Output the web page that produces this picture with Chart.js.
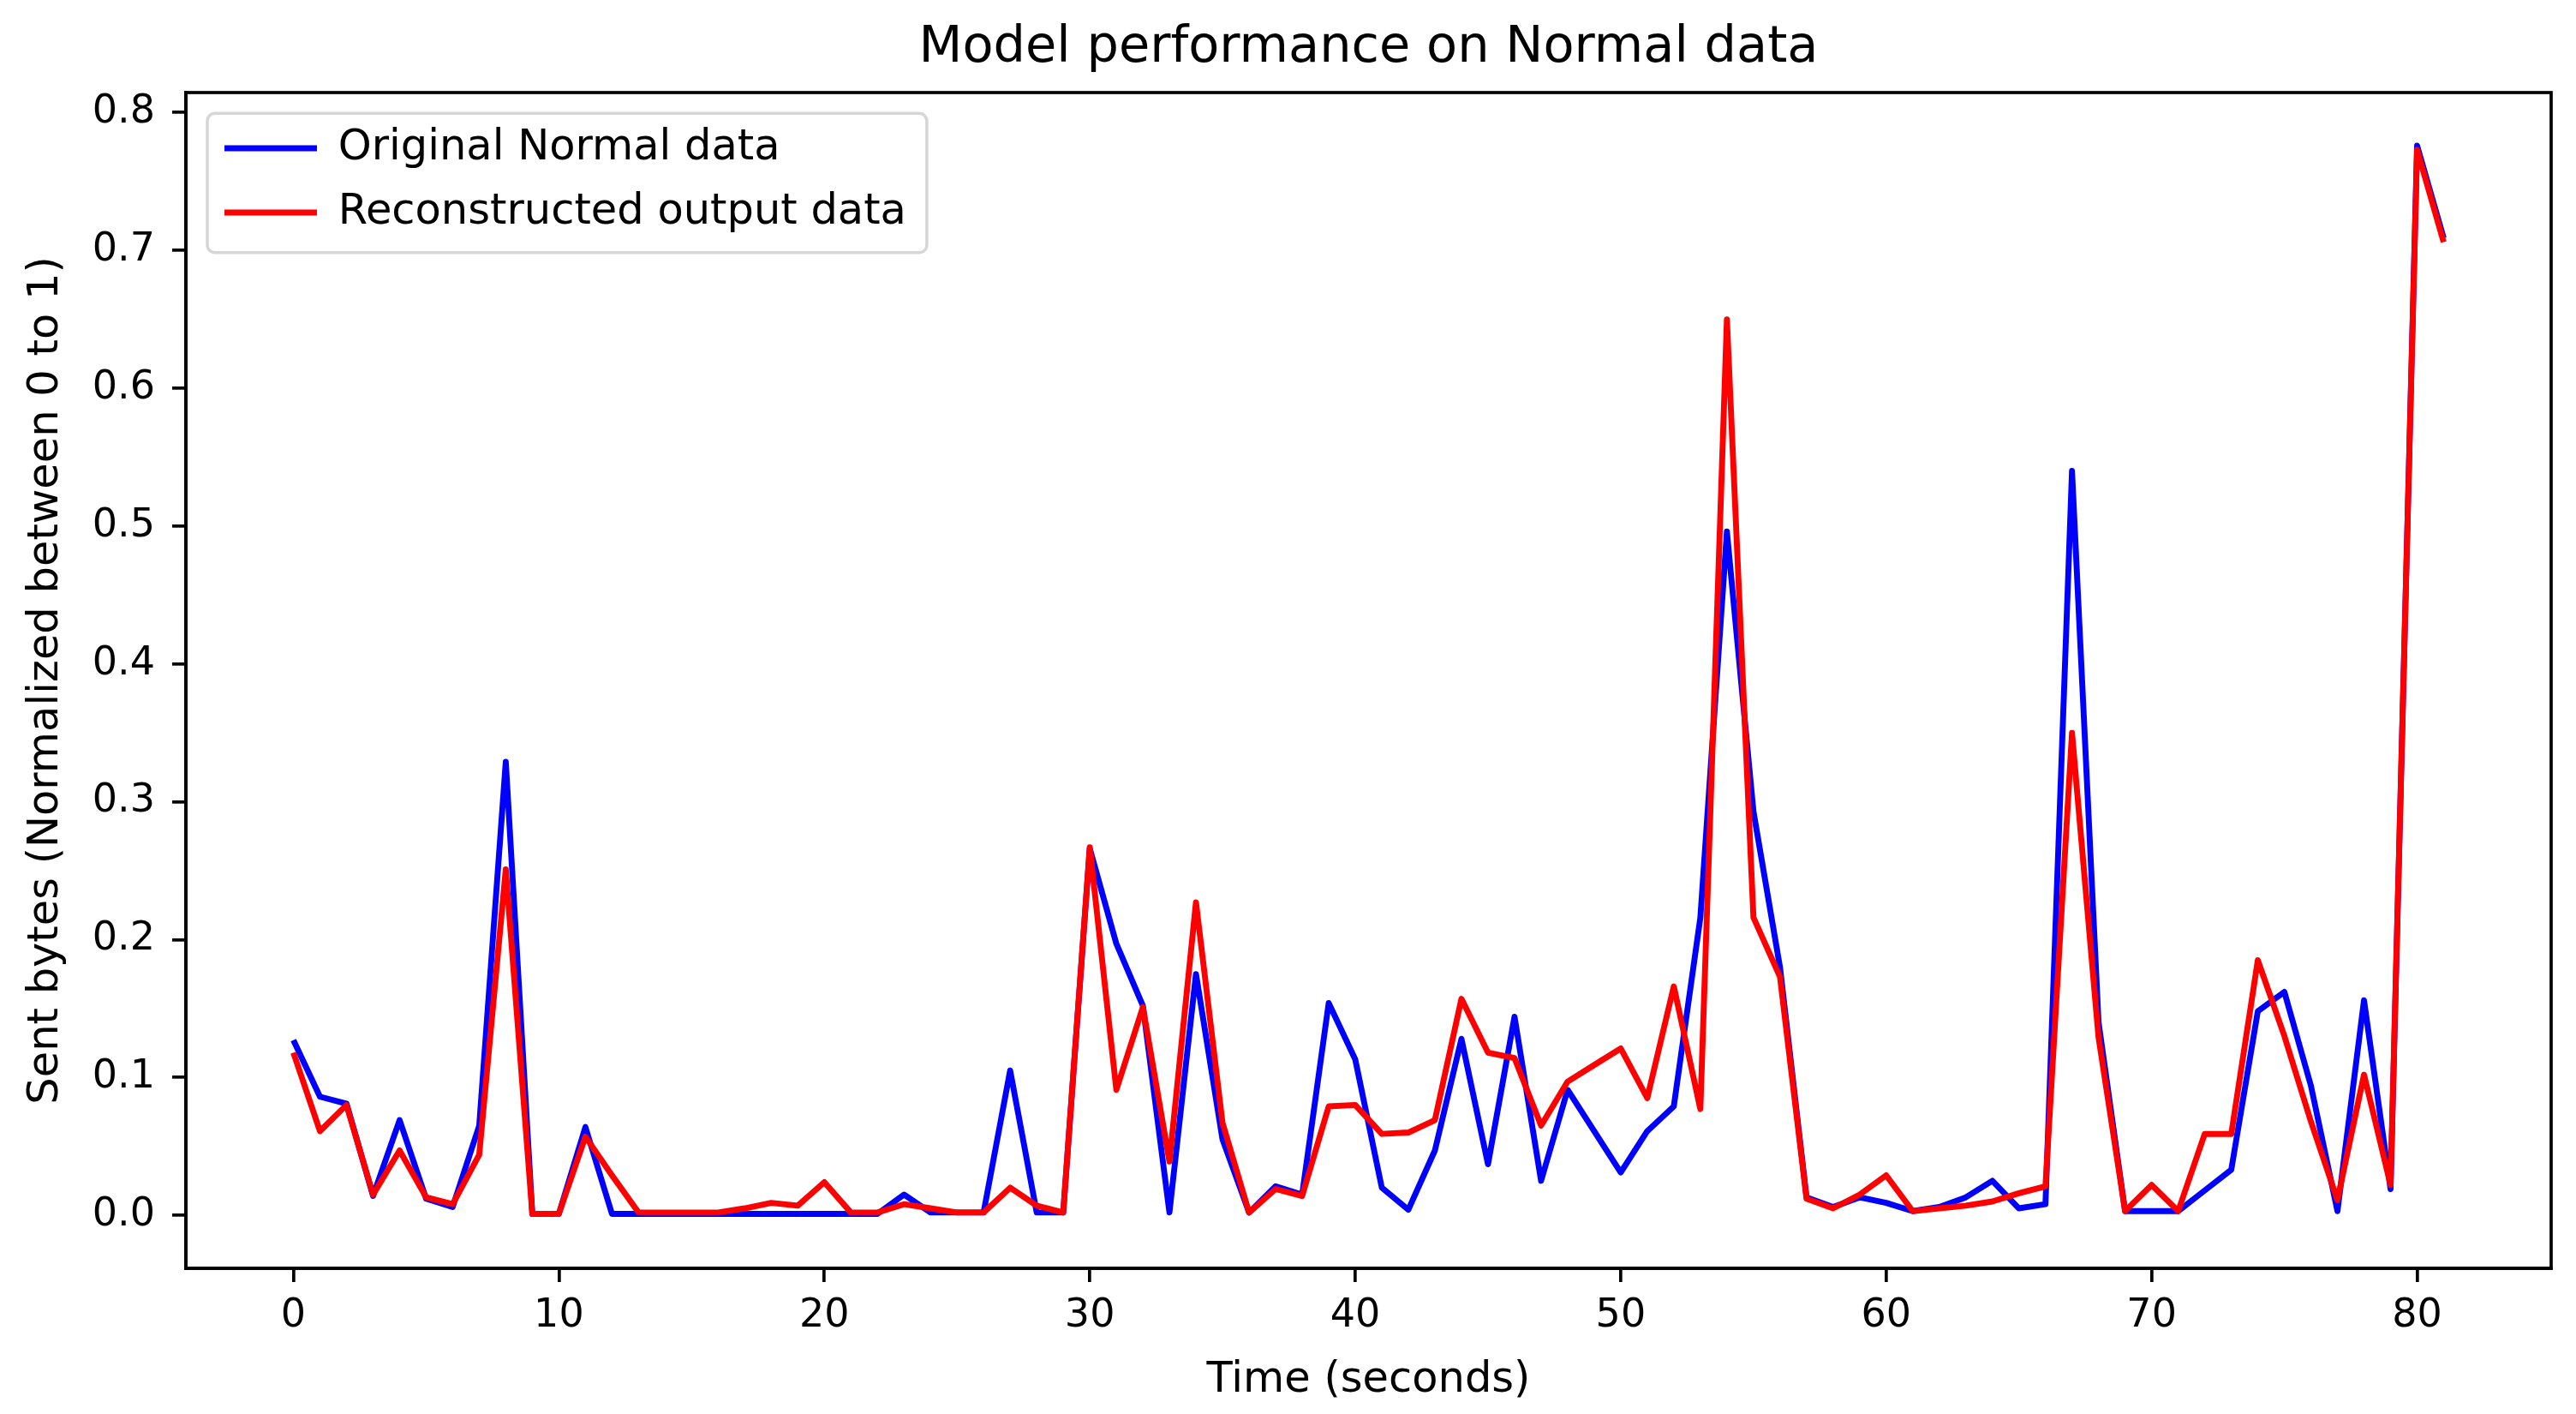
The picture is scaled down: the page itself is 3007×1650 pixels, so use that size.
<!DOCTYPE html>
<html>
<head>
<meta charset="utf-8">
<script src="https://cdn.jsdelivr.net/npm/chart.js@4/dist/chart.umd.min.js"></script>
<style>
  body { margin: 0; background: #fff; }
</style>
</head>
<body>
<canvas id="perf" width="3007" height="1650"></canvas>
<script>
/* MODEL PERFORMANCE ON NORMAL DATA */

const times = [
  0, 1, 2, 3, 4, 5, 6, 7, 8, 9, 10, 11, 12, 13, 14, 15, 16, 17, 18, 19,
  20, 21, 22, 23, 24, 25, 26, 27, 28, 29, 30, 31, 32, 33, 34, 35, 36, 37, 38, 39,
  40, 41, 42, 43, 44, 45, 46, 47, 48, 49, 50, 51, 52, 53, 54, 55, 56, 57, 58, 59,
  60, 61, 62, 63, 64, 65, 66, 67, 68, 69, 70, 71, 72, 73, 74, 75, 76, 77, 78, 79,
  80, 81
];

const original = [
  0.127, 0.086, 0.081, 0.014, 0.069, 0.012, 0.006, 0.065, 0.329, 0.001,
  0.001, 0.064, 0.001, 0.001, 0.001, 0.001, 0.001, 0.001, 0.001, 0.001,
  0.001, 0.001, 0.001, 0.015, 0.002, 0.002, 0.002, 0.105, 0.002, 0.002,
  0.266, 0.197, 0.152, 0.002, 0.175, 0.055, 0.002, 0.021, 0.015, 0.154,
  0.113, 0.020, 0.004, 0.047, 0.128, 0.037, 0.144, 0.025, 0.091, 0.061,
  0.031, 0.061, 0.079, 0.216, 0.496, 0.293, 0.180, 0.013, 0.006, 0.013,
  0.009, 0.003, 0.006, 0.013, 0.025, 0.005, 0.008, 0.540, 0.140, 0.003,
  0.003, 0.003, 0.018, 0.033, 0.148, 0.162, 0.094, 0.003, 0.156, 0.019,
  0.776, 0.709
];

const reconstructed = [
  0.118, 0.061, 0.080, 0.015, 0.047, 0.013, 0.008, 0.044, 0.251, 0.001,
  0.001, 0.057, 0.029, 0.002, 0.002, 0.002, 0.002, 0.005, 0.009, 0.007,
  0.024, 0.002, 0.002, 0.008, 0.005, 0.002, 0.002, 0.020, 0.007, 0.002,
  0.267, 0.091, 0.151, 0.039, 0.227, 0.067, 0.002, 0.019, 0.014, 0.079,
  0.080, 0.059, 0.060, 0.069, 0.157, 0.118, 0.114, 0.065, 0.097, 0.109,
  0.121, 0.085, 0.166, 0.077, 0.650, 0.216, 0.173, 0.012, 0.005, 0.015,
  0.029, 0.003, 0.005, 0.007, 0.010, 0.016, 0.021, 0.350, 0.129, 0.003,
  0.022, 0.003, 0.059, 0.059, 0.185, 0.130, 0.068, 0.011, 0.102, 0.022,
  0.773, 0.706
];

const xTicks = [0, 10, 20, 30, 40, 50, 60, 70, 80];
const yTicks = [0, 0.1, 0.2, 0.3, 0.4, 0.5, 0.6, 0.7, 0.8];

const toPoints = vals => times.map((t, i) => ({x: t, y: vals[i]}));

Chart.defaults.font.family = '"DejaVu Sans", sans-serif';
Chart.defaults.color = '#000';

// matplotlib style frame: full box round the axes + legend box
const framePlugin = {
  id: 'frame',
  afterLayout(chart) {
    const lg = chart.legend, ca = chart.chartArea;
    lg.left = ca.left + 19.5;
    lg.top = ca.top + 14.75;
    lg.right = ca.right;
    lg.bottom = ca.bottom;
  },
  beforeDraw(chart) {
    const hb = chart.legend.legendHitBoxes;
    if (!hb || !hb.length) return;
    const ctx = chart.ctx;
    const l = Math.min(...hb.map(h => h.left)) - 20;
    const t = Math.min(...hb.map(h => h.top)) - 16;
    const r = Math.max(...hb.map(h => h.left + h.width)) + 24;
    const b = Math.max(...hb.map(h => h.top + h.height)) + 22;
    ctx.save();
    ctx.beginPath();
    ctx.roundRect(l, t, r - l, b - t, 9);
    ctx.fillStyle = 'rgba(255,255,255,0.8)';
    ctx.fill();
    ctx.lineWidth = 3.5;
    ctx.strokeStyle = '#d6d6d6';
    ctx.stroke();
    ctx.restore();
  },
  afterDraw(chart) {
    const {ctx, chartArea: ca} = chart;
    ctx.save();
    ctx.lineWidth = 3.7;
    ctx.strokeStyle = '#000';
    ctx.strokeRect(ca.left, ca.top, ca.right - ca.left, ca.bottom - ca.top);
    ctx.restore();
  }
};

const tickGrid = {
  display: true,
  drawOnChartArea: false,
  drawTicks: true,
  tickLength: 16,
  lineWidth: 3.7,
  color: '#000'
};

const dataperf = {
  datasets: [{
    label: 'Original Normal data',
    data: toPoints(original),
    borderColor: 'rgb(0, 0, 255)',
    backgroundColor: 'rgb(0, 0, 255)',
    borderWidth: 6.9,
    pointRadius: 0,
    tension: 0,
    borderJoinStyle: 'round',
    order: 1
  }, {
    label: 'Reconstructed output data',
    data: toPoints(reconstructed),
    borderColor: 'rgb(255, 0, 0)',
    backgroundColor: 'rgb(255, 0, 0)',
    borderWidth: 6.9,
    pointRadius: 0,
    tension: 0,
    borderJoinStyle: 'round',
    order: 0
  }]
};

const configperf = {
  type: 'line',
  data: dataperf,
  plugins: [framePlugin],
  options: {
    responsive: false,
    animation: false,
    devicePixelRatio: 1,
    layout: { padding: { top: 0, right: 29, bottom: 0, left: 0 } },
    plugins: {
      title: {
        display: true,
        text: 'Model performance on Normal data',
        fullSize: false,
        font: { size: 59, weight: 'normal' },
        padding: { top: 21.6, bottom: 15.6 }
      },
      legend: {
        position: 'chartArea',
        align: 'start',
        labels: {
          font: { size: 49.5 },
          boxWidth: 108,
          boxHeight: 7,
          padding: 25.5,
          color: '#000',
          sort: (a, b) => a.datasetIndex - b.datasetIndex,
          generateLabels: chart => Chart.defaults.plugins.legend.labels
            .generateLabels(chart).map(l => ({...l, lineWidth: 0}))
        }
      },
      tooltip: { enabled: false }
    },
    scales: {
      x: {
        type: 'linear',
        min: -4.05,
        max: 85.05,
        afterBuildTicks: axis => { axis.ticks = xTicks.map(v => ({value: v})); },
        afterFit: scale => { scale.height = 170; },
        ticks: {
          font: { size: 46 },
          padding: 12,
          maxRotation: 0,
          autoSkip: false,
          callback: v => String(v)
        },
        grid: tickGrid,
        border: { display: true, width: 3.7, color: '#000' },
        title: {
          display: true,
          text: 'Time (seconds)',
          font: { size: 49.5 },
          padding: { top: 0, bottom: 9 }
        }
      },
      y: {
        type: 'linear',
        min: -0.0385,
        max: 0.8145,
        afterBuildTicks: axis => { axis.ticks = yTicks.map(v => ({value: v})); },
        afterFit: scale => { scale.width = 217; },
        ticks: {
          font: { size: 46 },
          padding: 20,
          autoSkip: false,
          callback: v => v.toFixed(1)
        },
        grid: tickGrid,
        border: { display: true, width: 3.7, color: '#000' },
        title: {
          display: true,
          text: 'Sent bytes (Normalized between 0 to 1)',
          font: { size: 49.5 },
          padding: { top: 24, bottom: 0 }
        }
      }
    }
  }
};

const chartperf = new Chart(
  document.getElementById('perf'),
  configperf
);
</script>
</body>
</html>
